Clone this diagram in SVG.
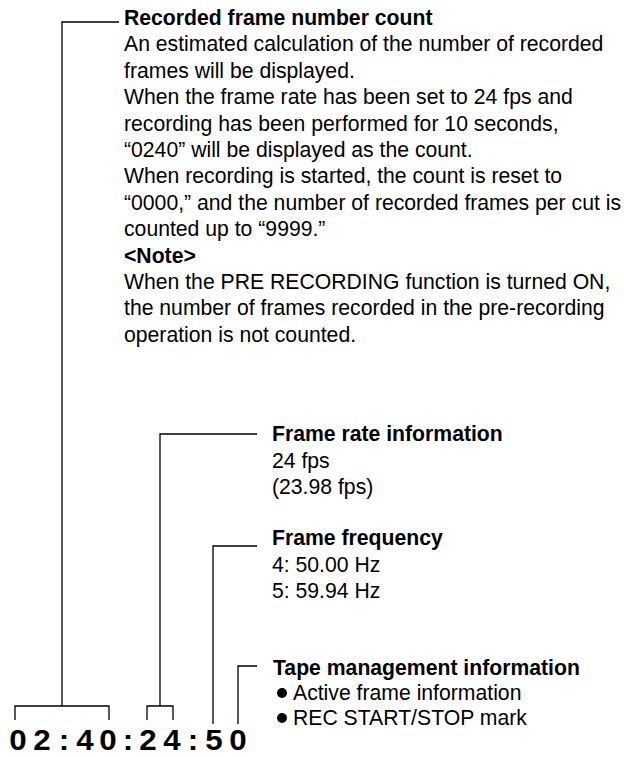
<svg xmlns="http://www.w3.org/2000/svg" width="624" height="757" viewBox="0 0 624 757">
<style>
.t{font-family:"Liberation Sans",Arial,sans-serif;font-size:21.2px;fill:#000}
.b{font-weight:bold}
.c{fill:none;stroke:#000;stroke-width:1.3}
.tc{font-family:"Liberation Sans",Arial,sans-serif;font-size:29px;font-weight:bold;fill:#000;text-anchor:middle}
</style>
<rect width="624" height="757" fill="#fff"/>
<g id="connectors">
<polyline class="c" points="119,22 62,22 62,706"/>
<polyline class="c" points="15,720 15,706 109,706 109,720"/>
<polyline class="c" points="257,434 160,434 160,706"/>
<polyline class="c" points="147,720 147,706 173,706 173,720"/>
<polyline class="c" points="257,546 213,546 213,724"/>
<polyline class="c" points="257,666 238,666 238,724"/>
</g>
<g id="timecode" transform="scale(1.08,1)">
<text class="tc" x="16.7 38.9 59.3 78.7 100.0 118.5 137.0 159.3 178.7 198.1 220.4" y="750">02:40:24:50</text>
</g>
<g id="recorded-frame-count">
<text class="t b" x="124" y="25">Recorded frame number count</text>
<text class="t" x="124" y="51.4">An estimated calculation of the number of recorded</text>
<text class="t" x="124" y="77.8">frames will be displayed.</text>
<text class="t" x="124" y="104.2">When the frame rate has been set to 24 fps and</text>
<text class="t" x="124" y="130.6">recording has been performed for 10 seconds,</text>
<text class="t" x="124" y="157">“0240” will be displayed as the count.</text>
<text class="t" x="124" y="183.4">When recording is started, the count is reset to</text>
<text class="t" x="124" y="209.8">“0000,” and the number of recorded frames per cut is</text>
<text class="t" x="124" y="236.2">counted up to “9999.”</text>
<text class="t b" x="124" y="262.6">&lt;Note&gt;</text>
<text class="t" x="124" y="289">When the PRE RECORDING function is turned ON,</text>
<text class="t" x="124" y="315.4">the number of frames recorded in the pre-recording</text>
<text class="t" x="124" y="341.8">operation is not counted.</text>
</g>
<g id="frame-rate">
<text class="t b" x="272" y="441">Frame rate information</text>
<text class="t" x="272" y="467.5">24 fps</text>
<text class="t" x="272" y="494">(23.98 fps)</text>
</g>
<g id="frame-frequency">
<text class="t b" x="272" y="545">Frame frequency</text>
<text class="t" x="272" y="571.5">4: 50.00 Hz</text>
<text class="t" x="272" y="598">5: 59.94 Hz</text>
</g>
<g id="tape-management">
<text class="t b" x="273" y="675">Tape management information</text>
<circle cx="282" cy="693" r="5" fill="#000"/>
<text class="t" x="293" y="700">Active frame information</text>
<circle cx="282" cy="718" r="5" fill="#000"/>
<text class="t" x="293" y="725">REC START/STOP mark</text>
</g>
</svg>
